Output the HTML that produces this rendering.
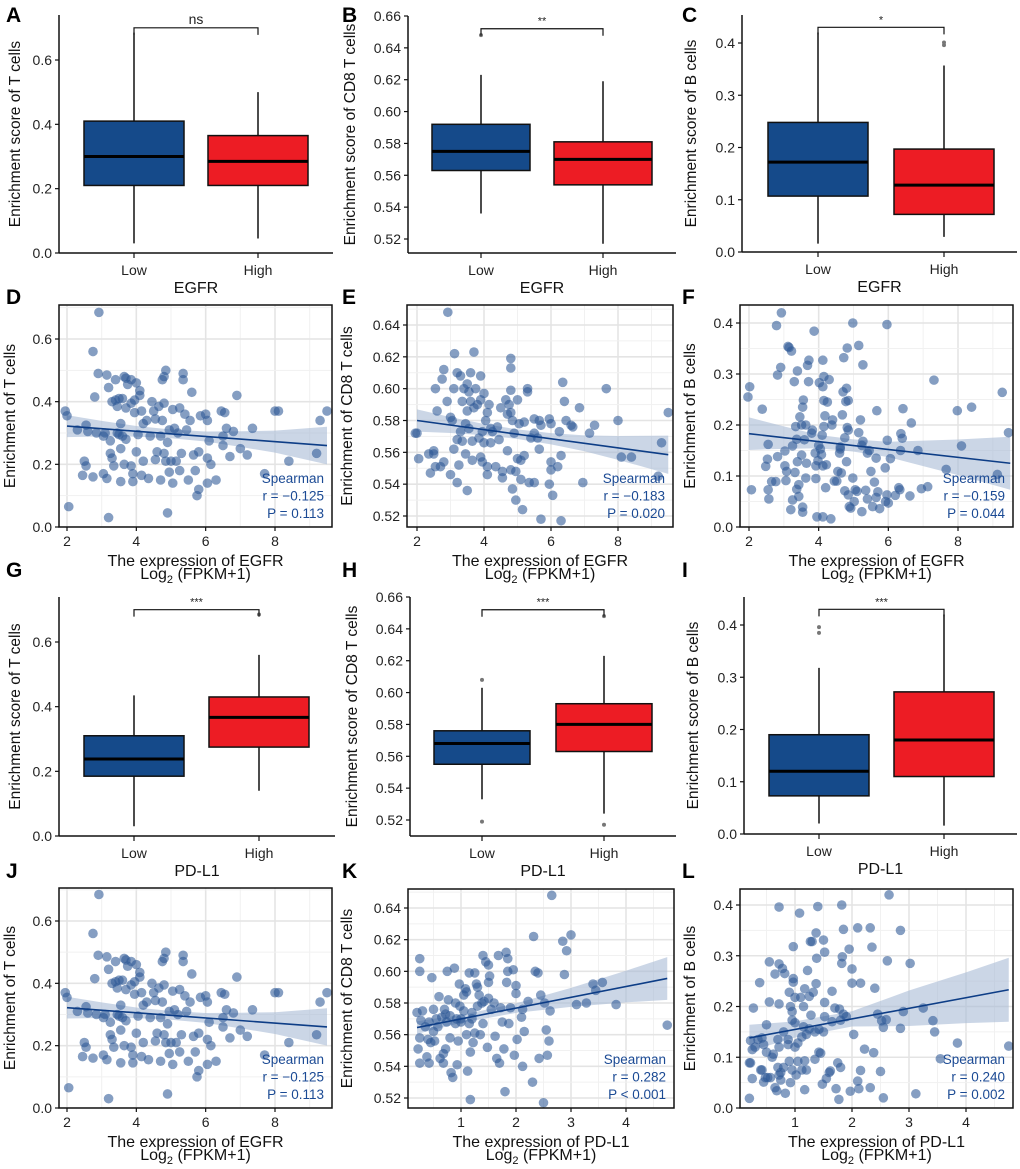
<!DOCTYPE html>
<html><head><meta charset="utf-8"><style>
html,body{margin:0;padding:0;background:#fff;overflow:hidden;}
svg{display:block;font-family:"Liberation Sans",Arial,sans-serif;}
</style></head><body>
<svg id="fig" width="1020" height="1169" viewBox="0 0 1020 1169" xmlns="http://www.w3.org/2000/svg"></svg>
<script>
// ---------- Box plot data: [min, q1, median, q3, max] ----------
const aLow=[0.03,0.21,0.30,0.41,0.685], aHigh=[0.045,0.21,0.285,0.365,0.50];
const bLow=[0.536,0.563,0.575,0.592,0.623], bHigh=[0.517,0.554,0.570,0.581,0.619];
const bLowOut=[0.648], bHighOut=[];
const cLow=[0.016,0.107,0.172,0.248,0.42], cHigh=[0.029,0.072,0.128,0.197,0.357];
const cLowOut=[], cHighOut=[0.396,0.401];
const gLow=[0.03,0.185,0.238,0.31,0.435], gHigh=[0.14,0.275,0.367,0.43,0.56];
const gLowOut=[], gHighOut=[0.685];
const hLow=[0.533,0.555,0.568,0.576,0.603], hHigh=[0.524,0.563,0.58,0.593,0.623];
const hLowOut=[0.608,0.519], hHighOut=[0.648,0.517];
const iLow=[0.02,0.073,0.12,0.19,0.318], iHigh=[0.016,0.11,0.18,0.272,0.42];
const iLowOut=[0.385,0.396], iHighOut=[];
const groupLabels=["Low","High"];
const tickT=[0,0.2,0.4,0.6], tickCD8=[0.52,0.54,0.56,0.58,0.60,0.62,0.64,0.66], tickB=[0,0.1,0.2,0.3,0.4];

// ---------- Scatter data ----------
const dPts=[[1.95,0.37],[2.0,0.355],[2.05,0.065],[2.3,0.31],[2.45,0.165],[2.5,0.21],[2.55,0.325],[2.55,0.195],[2.6,0.305],[2.75,0.56],[2.75,0.16],[2.8,0.415],[2.85,0.30],[2.9,0.49],[2.92,0.685],[3.05,0.29],[3.05,0.17],[3.1,0.3],[3.15,0.155],[3.15,0.485],[3.2,0.03],[3.2,0.445],[3.25,0.275],[3.25,0.235],[3.3,0.40],[3.3,0.22],[3.35,0.195],[3.4,0.47],[3.4,0.405],[3.45,0.30],[3.45,0.385],[3.5,0.295],[3.5,0.41],[3.55,0.145],[3.55,0.25],[3.55,0.33],[3.6,0.29],[3.6,0.41],[3.65,0.2],[3.65,0.48],[3.7,0.475],[3.7,0.38],[3.7,0.28],[3.75,0.455],[3.85,0.47],[3.85,0.395],[3.85,0.195],[3.9,0.145],[3.9,0.17],[3.95,0.365],[3.95,0.405],[4.0,0.46],[4.0,0.24],[4.05,0.295],[4.1,0.435],[4.1,0.42],[4.15,0.37],[4.15,0.165],[4.2,0.33],[4.2,0.21],[4.3,0.34],[4.35,0.155],[4.4,0.29],[4.45,0.4],[4.5,0.37],[4.55,0.345],[4.55,0.215],[4.6,0.24],[4.65,0.385],[4.7,0.15],[4.7,0.29],[4.75,0.47],[4.75,0.34],[4.8,0.48],[4.8,0.395],[4.8,0.235],[4.85,0.5],[4.85,0.21],[4.9,0.045],[4.9,0.27],[4.95,0.31],[4.95,0.175],[5.0,0.21],[5.05,0.14],[5.05,0.375],[5.1,0.315],[5.15,0.21],[5.2,0.30],[5.25,0.38],[5.25,0.18],[5.3,0.235],[5.35,0.47],[5.35,0.49],[5.4,0.36],[5.45,0.31],[5.5,0.15],[5.55,0.34],[5.6,0.43],[5.65,0.23],[5.7,0.18],[5.75,0.10],[5.8,0.12],[5.8,0.24],[5.85,0.355],[6.0,0.36],[6.05,0.34],[6.05,0.22],[6.05,0.14],[6.1,0.275],[6.15,0.2],[6.3,0.15],[6.45,0.37],[6.5,0.26],[6.5,0.29],[6.55,0.365],[6.6,0.315],[6.7,0.225],[6.8,0.305],[6.9,0.42],[7.0,0.25],[7.2,0.23],[7.35,0.315],[7.7,0.17],[8.0,0.37],[8.1,0.37],[8.4,0.21],[9.2,0.235],[9.3,0.34],[9.5,0.37]];
const dFit=[2,0.322,9.5,0.26];
const dCiX=[2,3,4,5,6,7,8,9.5], dCiHalf=[0.035,0.025,0.017,0.014,0.016,0.025,0.035,0.06];
const dStats=["Spearman","r = \u22120.125","P = 0.113"];

const ePts=[[1.95,0.572],[2.0,0.572],[2.05,0.556],[2.35,0.559],[2.4,0.547],[2.5,0.559],[2.5,0.561],[2.55,0.6],[2.55,0.551],[2.6,0.586],[2.7,0.551],[2.75,0.606],[2.8,0.612],[2.8,0.554],[2.9,0.592],[2.92,0.648],[3.0,0.582],[3.0,0.546],[3.05,0.58],[3.1,0.562],[3.1,0.6],[3.12,0.622],[3.2,0.61],[3.2,0.568],[3.2,0.541],[3.25,0.552],[3.3,0.608],[3.3,0.573],[3.35,0.592],[3.35,0.567],[3.4,0.6],[3.45,0.578],[3.45,0.559],[3.5,0.603],[3.5,0.536],[3.5,0.586],[3.55,0.598],[3.55,0.575],[3.6,0.61],[3.6,0.592],[3.65,0.567],[3.65,0.555],[3.7,0.623],[3.7,0.588],[3.75,0.6],[3.8,0.59],[3.85,0.569],[3.9,0.608],[3.9,0.557],[3.9,0.593],[3.95,0.554],[3.95,0.573],[4.0,0.597],[4.0,0.566],[4.05,0.58],[4.1,0.585],[4.1,0.551],[4.1,0.546],[4.15,0.59],[4.2,0.575],[4.2,0.566],[4.25,0.573],[4.35,0.551],[4.4,0.576],[4.45,0.568],[4.5,0.588],[4.55,0.544],[4.55,0.548],[4.65,0.593],[4.7,0.584],[4.7,0.561],[4.75,0.59],[4.8,0.619],[4.8,0.613],[4.8,0.599],[4.8,0.585],[4.8,0.549],[4.85,0.537],[4.85,0.58],[4.9,0.572],[4.95,0.548],[4.95,0.53],[5.0,0.556],[5.0,0.593],[5.05,0.578],[5.1,0.555],[5.1,0.543],[5.15,0.524],[5.2,0.579],[5.2,0.558],[5.3,0.6],[5.3,0.598],[5.35,0.541],[5.4,0.569],[5.5,0.572],[5.5,0.581],[5.5,0.541],[5.6,0.569],[5.65,0.58],[5.65,0.562],[5.7,0.518],[5.7,0.577],[5.95,0.581],[5.95,0.54],[6.0,0.554],[6.0,0.549],[6.0,0.578],[6.05,0.533],[6.2,0.551],[6.25,0.573],[6.3,0.558],[6.3,0.517],[6.35,0.604],[6.4,0.592],[6.45,0.58],[6.6,0.577],[6.65,0.576],[6.85,0.588],[6.95,0.541],[7.15,0.572],[7.3,0.577],[7.65,0.6],[8.0,0.58],[8.1,0.557],[8.4,0.557],[9.2,0.545],[9.3,0.566],[9.5,0.585]];
const eFit=[2,0.58,9.5,0.5585];
const eCiX=[2,3,4,5,6,7,8,9.5], eCiHalf=[0.007,0.005,0.0035,0.003,0.0035,0.005,0.0075,0.012];
const eStats=["Spearman","r = \u22120.183","P = 0.020"];

const fPts=[[1.97,0.255],[2.02,0.275],[2.07,0.073],[2.38,0.231],[2.48,0.119],[2.55,0.162],[2.53,0.133],[2.55,0.073],[2.57,0.055],[2.65,0.089],[2.77,0.089],[2.79,0.395],[2.82,0.298],[2.82,0.138],[2.93,0.42],[2.91,0.313],[3.03,0.149],[3.03,0.12],[3.06,0.091],[3.08,0.109],[3.12,0.354],[3.15,0.352],[3.2,0.034],[3.22,0.345],[3.25,0.053],[3.25,0.159],[3.3,0.285],[3.32,0.107],[3.34,0.197],[3.37,0.172],[3.37,0.074],[3.39,0.306],[3.39,0.128],[3.43,0.06],[3.43,0.083],[3.46,0.216],[3.51,0.141],[3.51,0.2],[3.54,0.235],[3.56,0.249],[3.54,0.039],[3.54,0.029],[3.59,0.171],[3.63,0.096],[3.63,0.2],[3.65,0.125],[3.68,0.317],[3.71,0.285],[3.72,0.327],[3.8,0.184],[3.82,0.19],[3.87,0.384],[3.9,0.145],[3.92,0.12],[3.92,0.095],[3.95,0.02],[3.98,0.13],[4.0,0.16],[4.02,0.283],[4.05,0.153],[4.08,0.142],[4.1,0.18],[4.12,0.12],[4.12,0.275],[4.15,0.248],[4.15,0.197],[4.12,0.327],[4.15,0.295],[4.12,0.02],[4.18,0.218],[4.2,0.077],[4.22,0.122],[4.25,0.245],[4.3,0.289],[4.35,0.016],[4.38,0.2],[4.4,0.21],[4.45,0.09],[4.52,0.09],[4.55,0.109],[4.6,0.145],[4.62,0.153],[4.62,0.157],[4.65,0.106],[4.68,0.22],[4.7,0.265],[4.72,0.332],[4.75,0.175],[4.75,0.071],[4.78,0.246],[4.8,0.272],[4.8,0.128],[4.82,0.195],[4.82,0.351],[4.85,0.063],[4.88,0.04],[4.85,0.248],[4.85,0.19],[4.92,0.037],[4.98,0.096],[4.98,0.4],[5.02,0.05],[5.05,0.073],[5.15,0.356],[5.1,0.07],[5.15,0.185],[5.2,0.21],[5.24,0.03],[5.24,0.16],[5.27,0.168],[5.27,0.318],[5.35,0.072],[5.4,0.055],[5.4,0.145],[5.45,0.15],[5.5,0.109],[5.55,0.04],[5.6,0.088],[5.65,0.058],[5.65,0.135],[5.67,0.228],[5.7,0.069],[5.75,0.036],[5.91,0.116],[5.92,0.05],[5.96,0.063],[5.96,0.397],[6.06,0.134],[5.97,0.17],[6.0,0.047],[6.2,0.062],[6.3,0.077],[6.33,0.073],[6.35,0.15],[6.36,0.183],[6.4,0.174],[6.42,0.232],[6.62,0.061],[6.66,0.204],[6.85,0.15],[6.95,0.075],[7.13,0.079],[7.31,0.288],[7.66,0.113],[7.98,0.228],[8.1,0.159],[8.39,0.235],[9.13,0.103],[9.27,0.264],[9.45,0.185]];
const fFit=[2,0.183,9.5,0.125];
const fCiX=[2,3,4,5,6,7,8,9.5], fCiHalf=[0.032,0.022,0.013,0.012,0.015,0.025,0.035,0.052];
const fStats=["Spearman","r = \u22120.159","P = 0.044"];

const kPts=[[0.2,0.574],[0.22,0.551],[0.25,0.608],[0.25,0.600],[0.27,0.569],[0.25,0.542],[0.25,0.558],[0.3,0.575],[0.35,0.565],[0.38,0.546],[0.4,0.557],[0.42,0.542],[0.42,0.568],[0.45,0.555],[0.47,0.596],[0.5,0.576],[0.5,0.562],[0.52,0.556],[0.55,0.570],[0.58,0.565],[0.6,0.584],[0.62,0.545],[0.65,0.571],[0.68,0.548],[0.68,0.542],[0.7,0.576],[0.72,0.573],[0.72,0.551],[0.74,0.568],[0.75,0.600],[0.77,0.582],[0.8,0.572],[0.8,0.558],[0.82,0.536],[0.85,0.533],[0.88,0.602],[0.9,0.580],[0.9,0.567],[0.92,0.570],[0.93,0.541],[0.95,0.556],[0.97,0.592],[0.98,0.578],[1.0,0.570],[1.0,0.568],[1.05,0.585],[1.05,0.575],[1.08,0.589],[1.1,0.587],[1.1,0.560],[1.12,0.537],[1.15,0.599],[1.15,0.567],[1.17,0.549],[1.17,0.519],[1.2,0.574],[1.2,0.570],[1.22,0.555],[1.25,0.599],[1.25,0.561],[1.28,0.592],[1.3,0.590],[1.3,0.578],[1.33,0.585],[1.35,0.560],[1.38,0.580],[1.4,0.610],[1.4,0.567],[1.42,0.581],[1.45,0.606],[1.48,0.552],[1.5,0.604],[1.5,0.593],[1.5,0.583],[1.52,0.597],[1.55,0.576],[1.6,0.580],[1.62,0.559],[1.65,0.545],[1.68,0.610],[1.7,0.542],[1.72,0.577],[1.75,0.568],[1.78,0.551],[1.8,0.524],[1.82,0.612],[1.83,0.593],[1.85,0.608],[1.85,0.600],[1.87,0.567],[1.9,0.577],[1.95,0.601],[1.97,0.547],[2.0,0.591],[2.0,0.586],[2.02,0.557],[2.1,0.571],[2.12,0.576],[2.12,0.540],[2.15,0.562],[2.22,0.581],[2.3,0.530],[2.32,0.622],[2.35,0.600],[2.4,0.599],[2.42,0.545],[2.45,0.585],[2.5,0.517],[2.52,0.580],[2.55,0.563],[2.57,0.547],[2.6,0.556],[2.62,0.575],[2.65,0.648],[2.85,0.619],[2.88,0.598],[2.92,0.613],[3.0,0.623],[3.1,0.579],[3.28,0.580],[3.4,0.592],[3.45,0.588],[3.57,0.593],[3.82,0.579],[4.75,0.566]];
const kFit=[0.2,0.5645,4.75,0.5955];
const kCiX=[0.2,1,2,3,4,4.75], kCiHalf=[0.004,0.0025,0.003,0.006,0.01,0.0135];
const kStats=["Spearman","r = 0.282","P < 0.001"];

const lPts=[[0.2,0.019],[0.2,0.089],[0.22,0.089],[0.22,0.133],[0.25,0.058],[0.25,0.115],[0.27,0.197],[0.3,0.12],[0.35,0.135],[0.38,0.247],[0.4,0.075],[0.42,0.075],[0.42,0.138],[0.45,0.051],[0.45,0.125],[0.48,0.06],[0.5,0.164],[0.5,0.11],[0.52,0.06],[0.55,0.288],[0.55,0.209],[0.57,0.06],[0.6,0.1],[0.62,0.106],[0.65,0.264],[0.65,0.04],[0.68,0.034],[0.7,0.08],[0.7,0.135],[0.72,0.396],[0.72,0.284],[0.72,0.205],[0.72,0.12],[0.72,0.065],[0.75,0.055],[0.75,0.07],[0.78,0.275],[0.8,0.15],[0.8,0.08],[0.82,0.265],[0.83,0.029],[0.88,0.135],[0.88,0.125],[0.9,0.228],[0.9,0.092],[0.92,0.05],[0.92,0.2],[0.95,0.19],[0.95,0.173],[0.95,0.075],[0.97,0.255],[0.97,0.248],[0.97,0.318],[1.0,0.168],[1.0,0.218],[1.0,0.12],[1.02,0.065],[1.05,0.128],[1.05,0.092],[1.08,0.384],[1.1,0.218],[1.12,0.14],[1.12,0.075],[1.15,0.2],[1.15,0.16],[1.17,0.235],[1.17,0.093],[1.17,0.036],[1.2,0.145],[1.2,0.075],[1.22,0.271],[1.25,0.22],[1.25,0.156],[1.27,0.328],[1.28,0.183],[1.3,0.328],[1.32,0.228],[1.35,0.15],[1.35,0.096],[1.37,0.345],[1.37,0.245],[1.38,0.295],[1.4,0.397],[1.42,0.155],[1.42,0.11],[1.45,0.108],[1.48,0.047],[1.5,0.331],[1.5,0.15],[1.52,0.307],[1.52,0.208],[1.52,0.18],[1.55,0.058],[1.6,0.07],[1.62,0.073],[1.65,0.23],[1.65,0.17],[1.7,0.197],[1.72,0.038],[1.75,0.089],[1.77,0.017],[1.78,0.195],[1.8,0.08],[1.8,0.173],[1.82,0.4],[1.82,0.285],[1.83,0.298],[1.85,0.352],[1.85,0.185],[1.9,0.18],[1.95,0.313],[1.97,0.033],[2.0,0.274],[2.0,0.246],[2.03,0.145],[2.1,0.355],[2.1,0.053],[2.12,0.038],[2.15,0.074],[2.15,0.246],[2.22,0.116],[2.32,0.355],[2.32,0.04],[2.35,0.317],[2.38,0.109],[2.4,0.236],[2.45,0.185],[2.5,0.072],[2.52,0.172],[2.55,0.02],[2.55,0.159],[2.6,0.174],[2.62,0.29],[2.65,0.42],[2.85,0.35],[2.85,0.157],[2.9,0.19],[3.02,0.285],[3.12,0.028],[3.25,0.197],[3.42,0.172],[3.45,0.15],[3.55,0.097],[3.85,0.128],[4.75,0.122]];
const lFit=[0.2,0.138,4.75,0.233];
const lCiX=[0.2,1,2,3,4,4.75], lCiHalf=[0.026,0.016,0.015,0.035,0.05,0.063];
const lStats=["Spearman","r = 0.240","P = 0.002"];

const xTicksEGFR=[2,4,6,8], xTicksPD=[1,2,3,4];
const yTicksT=[0,0.2,0.4,0.6], yTicksCD8=[0.52,0.54,0.56,0.58,0.60,0.62,0.64], yTicksB=[0,0.1,0.2,0.3,0.4];

const NS="http://www.w3.org/2000/svg";
const svg=document.getElementById('fig');
function mk(tag,attrs,parent){const e=document.createElementNS(NS,tag);for(const k in attrs)e.setAttribute(k,attrs[k]);(parent||svg).appendChild(e);return e;}
function txt(s,x,y,attrs,parent){const t=mk('text',Object.assign({x:x,y:y},attrs),parent);t.textContent=s;return t;}
function lin(v0,p0,v1,p1){return v=>p0+(v-v0)*(p1-p0)/(v1-v0);}
function fmt(v,d){return v.toFixed(d);}

function panelLetter(s,x,y){
  const t=txt(s,x,y,{'font-size':21,'font-weight':'bold',fill:'#000'});
  
  
}

function boxPanel(id,c,low,high,lowOut,highOut,yt,dec,sig,ylabel,gene){
  const g=mk('g',{});
  
  
  const sy=lin(c.y0v,c.y0p,c.y1v,c.y1p);
  const base=c.base;
  mk('line',{x1:c.axL,y1:c.axTop,x2:c.axL,y2:base,stroke:'#111','stroke-width':1.5},g);
  mk('line',{x1:c.axL,y1:base,x2:c.axR,y2:base,stroke:'#111','stroke-width':1.5},g);
  yt.forEach(v=>{
    const y=sy(v);
    mk('line',{x1:c.axL-4,y1:y,x2:c.axL,y2:y,stroke:'#111','stroke-width':1.2},g);
    const t=txt(fmt(v,dec),c.axL-7,y+5,{'text-anchor':'end','font-size':14,fill:'#222'},g);
    
    
  });
  const groups=[[low,lowOut,c.lowX,'#154a8a'],[high,highOut,c.highX,'#ed1c24']];
  groups.forEach((gr,i)=>{
    const d=gr[0],x=gr[2];
    mk('line',{x1:x,y1:base,x2:x,y2:base+5,stroke:'#111','stroke-width':1.2},g);
    const lab=txt(groupLabels[i],x,base+22,{'text-anchor':'middle','font-size':14,fill:'#222'},g);
    
    
    mk('line',{x1:x,y1:sy(d[0]),x2:x,y2:sy(d[4]),stroke:'#111','stroke-width':1.5},g);
    const r=mk('rect',{x:x-c.hw,y:sy(d[3]),width:2*c.hw,height:sy(d[1])-sy(d[3]),fill:gr[3],stroke:'#111','stroke-width':1.5},g);
    
    
    mk('line',{x1:x-c.hw,y1:sy(d[2]),x2:x+c.hw,y2:sy(d[2]),stroke:'#000','stroke-width':3},g);
    gr[1].forEach(o=>{
      const p=mk('circle',{cx:x,cy:sy(o),r:2,fill:'#777'},g);
      
      
    });
  });
  const by=sy(c.brV);
  mk('path',{d:`M${c.lowX},${by+7}V${by}H${c.highX}V${by+7}`,fill:'none',stroke:'#111','stroke-width':1.2},g);
  const st=txt(sig,(c.lowX+c.highX)/2,by-4,{'text-anchor':'middle','font-size':sig==='ns'?14:11,fill:'#222'},g);
  
  
  const cy=(c.axTop+base)/2;
  const yl=txt(ylabel,c.ylX,cy,{'text-anchor':'middle','font-size':15.5,fill:'#111',transform:`rotate(-90 ${c.ylX} ${cy})`},g);
  
  
  const xl=txt(gene,(c.axL+c.axR)/2,base+40,{'text-anchor':'middle','font-size':16,fill:'#111'},g);
  
  
}

function scatterPanel(id,c,pts,fit,ciX,ciH,stats,xt,yt,dec,ylabel,gene){
  const g=mk('g',{});
  
  
  const sx=lin(c.x0v,c.x0p,c.x1v,c.x1p), sy=lin(c.y0v,c.y0p,c.y1v,c.y1p);
  const clipId='clip'+id;
  const cp=mk('clipPath',{id:clipId},g);
  mk('rect',{x:c.L,y:c.T,width:c.R-c.L,height:c.B-c.T},cp);
  const gg=mk('g',{'clip-path':`url(#${clipId})`},g);
  const xs=xt[1]-xt[0], ys=yt[1]-yt[0];
  for(let v=xt[0]-xs*2;v<=xt[xt.length-1]+xs*2;v+=xs/2){
    const major=Math.abs(((v-xt[0])/xs)-Math.round((v-xt[0])/xs))<1e-6;
    mk('line',{x1:sx(v),y1:c.T,x2:sx(v),y2:c.B,stroke:major?'#e4e4e4':'#f1f1f1','stroke-width':major?1.6:1},gg);
  }
  for(let v=yt[0]-ys*2;v<=yt[yt.length-1]+ys*2;v+=ys/2){
    const major=Math.abs(((v-yt[0])/ys)-Math.round((v-yt[0])/ys))<1e-6;
    mk('line',{x1:c.L,y1:sy(v),x2:c.R,y2:sy(v),stroke:major?'#e4e4e4':'#f1f1f1','stroke-width':major?1.6:1},gg);
  }
  const fy=x=>fit[1]+(x-fit[0])*(fit[3]-fit[1])/(fit[2]-fit[0]);
  let up=ciX.map((x,i)=>`${sx(x)},${sy(fy(x)+ciH[i])}`);
  let lo=ciX.map((x,i)=>`${sx(x)},${sy(fy(x)-ciH[i])}`).reverse();
  const band=mk('polygon',{points:up.concat(lo).join(' '),fill:'#a9bbd6','fill-opacity':0.6},gg);
  
  
  pts.forEach(p=>{
    const d=mk('circle',{cx:sx(p[0]),cy:sy(p[1]),r:4.8,fill:'#2c5896','fill-opacity':0.58},gg);
    
    
  });
  const fl=mk('line',{x1:sx(fit[0]),y1:sy(fit[1]),x2:sx(fit[2]),y2:sy(fit[3]),stroke:'#0d3d86','stroke-width':1.6},gg);
  
  
  mk('rect',{x:c.L,y:c.T,width:c.R-c.L,height:c.B-c.T,fill:'none',stroke:'#111','stroke-width':1.5},g);
  xt.forEach(v=>{
    mk('line',{x1:sx(v),y1:c.B,x2:sx(v),y2:c.B+4,stroke:'#111','stroke-width':1.2},g);
    const t=txt(String(v),sx(v),c.B+19,{'text-anchor':'middle','font-size':14,fill:'#222'},g);
    
    
  });
  yt.forEach(v=>{
    const y=sy(v);
    mk('line',{x1:c.L-4,y1:y,x2:c.L,y2:y,stroke:'#111','stroke-width':1.2},g);
    const t=txt(fmt(v,dec),c.L-7,y+5,{'text-anchor':'end','font-size':14,fill:'#222'},g);
    
    
  });
  stats.forEach((s,i)=>{
    const t=txt(s,c.R-8,c.B-44+i*17.5,{'text-anchor':'end','font-size':13.5,fill:'#1b4a94'},g);
    
    
  });
  const cy=(c.T+c.B)/2;
  const yl=txt(ylabel,c.ylX,cy,{'text-anchor':'middle','font-size':15.5,fill:'#111',transform:`rotate(-90 ${c.ylX} ${cy})`},g);
  
  
  const cx=(c.L+c.R)/2;
  const x1=txt('The expression of '+gene,cx,c.B+39,{'text-anchor':'middle','font-size':16,fill:'#111'},g);
  
  
  const x2=mk('text',{x:cx,y:c.B+52,'text-anchor':'middle','font-size':16,fill:'#111'},g);
  
  
  x2.innerHTML='Log<tspan font-size="11" dy="4">2</tspan><tspan dy="-4"> (FPKM+1)</tspan>';
}

boxPanel('a',{axL:59,axR:333,axTop:15,base:253,y0v:0,y0p:253,y1v:0.6,y1p:60,lowX:134,highX:258,hw:50,brV:0.70,ylX:20},aLow,aHigh,[],[],tickT,1,'ns','Enrichment score of T cells','EGFR');
boxPanel('b',{axL:408,axR:676,axTop:16,base:253,y0v:0.52,y0p:239,y1v:0.66,y1p:16,lowX:481,highX:603,hw:49,brV:0.652,ylX:355},bLow,bHigh,bLowOut,bHighOut,tickCD8,2,'**','Enrichment score of CD8 T cells','EGFR');
boxPanel('c',{axL:742,axR:1017,axTop:15,base:252,y0v:0,y0p:252,y1v:0.4,y1p:43,lowX:818,highX:944,hw:50,brV:0.43,ylX:696},cLow,cHigh,cLowOut,cHighOut,tickB,1,'*','Enrichment score of B cells','EGFR');
boxPanel('g',{axL:59,axR:335,axTop:597,base:836,y0v:0,y0p:836,y1v:0.6,y1p:642,lowX:134,highX:259,hw:50,brV:0.70,ylX:20},gLow,gHigh,gLowOut,gHighOut,tickT,1,'***','Enrichment score of T cells','PD-L1');
boxPanel('h',{axL:410,axR:676,axTop:597,base:836,y0v:0.52,y0p:820,y1v:0.66,y1p:597,lowX:482,highX:604,hw:48,brV:0.652,ylX:357},hLow,hHigh,hLowOut,hHighOut,tickCD8,2,'***','Enrichment score of CD8 T cells','PD-L1');
boxPanel('i',{axL:744,axR:1017,axTop:597,base:834,y0v:0,y0p:834,y1v:0.4,y1p:625,lowX:819,highX:944,hw:50,brV:0.43,ylX:698},iLow,iHigh,iLowOut,iHighOut,tickB,1,'***','Enrichment score of B cells','PD-L1');
scatterPanel('d',{L:59,R:332,T:305,B:527,x0v:2,x0p:67,x1v:8,x1p:275,y0v:0,y0p:527,y1v:0.6,y1p:339,ylX:15},dPts,dFit,dCiX,dCiHalf,dStats,xTicksEGFR,yTicksT,1,'Enrichment of T cells','EGFR');
scatterPanel('e',{L:407,R:673,T:305,B:527,x0v:2,x0p:417,x1v:8,x1p:618,y0v:0.52,y0p:516,y1v:0.64,y1p:325,ylX:352},ePts,eFit,eCiX,eCiHalf,eStats,xTicksEGFR,yTicksCD8,2,'Enrichment of CD8 T cells','EGFR');
scatterPanel('f',{L:740,R:1013,T:305,B:527,x0v:2,x0p:749,x1v:8,x1p:958,y0v:0,y0p:527,y1v:0.4,y1p:323,ylX:695},fPts,fFit,fCiX,fCiHalf,fStats,xTicksEGFR,yTicksB,1,'Enrichment of B cells','EGFR');
scatterPanel('j',{L:59,R:332,T:888,B:1108,x0v:2,x0p:67,x1v:8,x1p:275,y0v:0,y0p:1108,y1v:0.6,y1p:921,ylX:15},dPts,dFit,dCiX,dCiHalf,dStats,xTicksEGFR,yTicksT,1,'Enrichment of T cells','EGFR');
scatterPanel('k',{L:408,R:674,T:889,B:1108,x0v:1,x0p:461,x1v:4,x1p:626,y0v:0.52,y0p:1098,y1v:0.64,y1p:908,ylX:352},kPts,kFit,kCiX,kCiHalf,kStats,xTicksPD,yTicksCD8,2,'Enrichment of CD8 T cells','PD-L1');
scatterPanel('l',{L:740,R:1013,T:889,B:1108,x0v:1,x0p:795,x1v:4,x1p:966,y0v:0,y0p:1108,y1v:0.4,y1p:905,ylX:695},lPts,lFit,lCiX,lCiHalf,lStats,xTicksPD,yTicksB,1,'Enrichment of B cells','PD-L1');

[['A',6,22],['B',342,22],['C',682,22],['D',6,304],['E',342,304],['F',682,304],['G',6,577],['H',342,577],['I',682,577],['J',6,878],['K',342,878],['L',682,878]].forEach(a=>panelLetter(a[0],a[1],a[2]));
</script>
</body></html>
